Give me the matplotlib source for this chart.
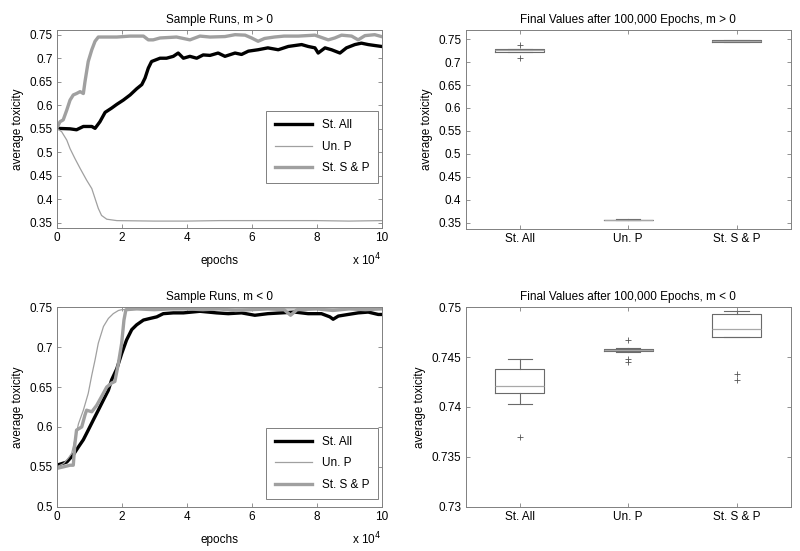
import matplotlib.pyplot as plt
from matplotlib.ticker import FormatStrFormatter

plt.rcParams['font.family'] = ['Liberation Sans', 'DejaVu Sans']
plt.rcParams['font.size'] = 8.5

# sample runs, m > 0  (epochs in units of 1e4)
pos_all_x = [0, 0.41, 0.61, 0.82, 1.08, 1.18, 1.33, 1.49, 1.69, 1.85, 2.05, 2.26, 2.46, 2.62, 2.72, 2.82,
             2.92, 3.18, 3.38, 3.59, 3.74, 3.90, 4.10, 4.31, 4.51, 4.72, 4.97, 5.18, 5.49, 5.69, 5.90, 6.20,
             6.50, 6.82, 7.13, 7.54, 7.74, 7.95, 8.05, 8.26, 8.46, 8.72, 8.92, 9.18, 9.38, 9.59, 9.79, 10.0]
pos_all_y = [0.551, 0.550, 0.548, 0.555, 0.555, 0.551, 0.565, 0.585, 0.594, 0.602, 0.611, 0.622, 0.635, 0.644,
             0.658, 0.679, 0.693, 0.700, 0.700, 0.704, 0.711, 0.700, 0.704, 0.700, 0.707, 0.706, 0.711, 0.704,
             0.711, 0.708, 0.715, 0.718, 0.722, 0.718, 0.725, 0.729, 0.725, 0.722, 0.711, 0.722, 0.718, 0.711,
             0.722, 0.729, 0.732, 0.729, 0.727, 0.725]
pos_unp_x = [0, 0.15, 0.31, 0.41, 0.56, 0.72, 0.92, 1.08, 1.18, 1.28, 1.38, 1.54, 1.85, 3.0, 4.0, 5.0, 6.0,
             7.0, 8.0, 9.0, 10.0]
pos_unp_y = [0.551, 0.544, 0.526, 0.508, 0.487, 0.466, 0.441, 0.423, 0.402, 0.381, 0.366, 0.358, 0.355, 0.354,
             0.354, 0.355, 0.355, 0.355, 0.355, 0.354, 0.355]
pos_sp_x = [0, 0.10, 0.20, 0.31, 0.41, 0.51, 0.61, 0.72, 0.82, 0.87, 0.97, 1.08, 1.18, 1.28, 1.49, 1.85, 2.26,
            2.67, 2.82, 2.97, 3.18, 3.69, 4.10, 4.41, 4.72, 5.18, 5.49, 5.80, 6.00, 6.20, 6.40, 6.70, 7.00,
            7.44, 7.95, 8.36, 8.56, 8.77, 9.08, 9.28, 9.49, 9.79, 10.0]
pos_sp_y = [0.551, 0.565, 0.569, 0.590, 0.611, 0.622, 0.625, 0.629, 0.625, 0.650, 0.693, 0.718, 0.736, 0.745,
            0.745, 0.745, 0.747, 0.747, 0.739, 0.739, 0.743, 0.745, 0.739, 0.747, 0.745, 0.746, 0.750, 0.749,
            0.743, 0.736, 0.742, 0.745, 0.747, 0.747, 0.749, 0.739, 0.743, 0.749, 0.747, 0.739, 0.748, 0.750,
            0.746]

# sample runs, m < 0
neg_all_x = [0, 0.31, 0.51, 0.67, 0.82, 0.97, 1.13, 1.28, 1.44, 1.59, 1.69, 1.85, 2.0, 2.15, 2.31, 2.46, 2.67,
             2.87, 3.08, 3.28, 3.59, 3.9, 4.41, 4.92, 5.28, 5.69, 6.1, 6.5, 6.92, 7.33, 7.74, 8.15, 8.41, 8.51,
             8.67, 8.97, 9.28, 9.59, 9.9, 10.0]
neg_all_y = [0.552, 0.556, 0.565, 0.575, 0.584, 0.596, 0.609, 0.621, 0.634, 0.646, 0.659, 0.673, 0.692, 0.709,
             0.722, 0.728, 0.734, 0.736, 0.738, 0.742, 0.743, 0.743, 0.745, 0.743, 0.742, 0.743, 0.740, 0.742,
             0.743, 0.744, 0.742, 0.742, 0.738, 0.735, 0.739, 0.741, 0.743, 0.744, 0.741, 0.741]
neg_unp_x = [0, 0.21, 0.36, 0.46, 0.56, 0.67, 0.82, 0.97, 1.08, 1.18, 1.28, 1.44, 1.59, 1.74, 1.9, 2.0, 3.0,
             4.0, 5.0, 6.0, 7.0, 8.0, 9.0, 10.0]
neg_unp_y = [0.550, 0.554, 0.561, 0.567, 0.584, 0.604, 0.621, 0.642, 0.665, 0.684, 0.705, 0.726, 0.736, 0.742,
             0.746, 0.747, 0.748, 0.748, 0.748, 0.748, 0.748, 0.748, 0.748, 0.748]
neg_sp_x = [0, 0.21, 0.41, 0.51, 0.56, 0.61, 0.77, 0.87, 0.92, 1.08, 1.23, 1.38, 1.54, 1.69, 1.79, 1.9, 2.0,
            2.07, 2.13, 2.46, 3.0, 3.5, 4.0, 4.5, 5.0, 5.5, 6.0, 6.5, 7.0, 7.2, 7.4, 8.0, 8.5, 9.0, 9.5, 10.0]
neg_sp_y = [0.548, 0.550, 0.552, 0.552, 0.579, 0.596, 0.600, 0.615, 0.621, 0.619, 0.627, 0.638, 0.650, 0.655,
            0.657, 0.680, 0.705, 0.734, 0.747, 0.748, 0.747, 0.748, 0.748, 0.747, 0.748, 0.746, 0.747, 0.748,
            0.747, 0.740, 0.747, 0.748, 0.746, 0.748, 0.747, 0.748]

# final values (box statistics)
groups = ['St. All', 'Un. P', 'St. S & P']
pos_med = [0.7253, 0.3560, 0.7465]
pos_q1 = [0.7224, 0.3553, 0.7443]
pos_q3 = [0.7282, 0.3567, 0.7478]
pos_lo = [0.7215, 0.3550, 0.7435]
pos_hi = [0.7290, 0.3570, 0.7485]
pos_out = [[0.7370, 0.7093], [], []]

neg_med = [0.74214, 0.74569, 0.74779]
neg_q1 = [0.74137, 0.74559, 0.74699]
neg_q3 = [0.74385, 0.74579, 0.74936]
neg_lo = [0.74027, 0.74555, 0.74699]
neg_hi = [0.74485, 0.74589, 0.74967]
neg_out = [[0.73702], [0.74672, 0.74482, 0.74452], [0.74328, 0.74274]]

GREY = '#a0a0a0'
FRAME = '#808080'


def style(ax):
    ax.tick_params(direction='in', top=True, right=True, length=3, width=0.6, color=FRAME, pad=3)
    for s in ax.spines.values():
        s.set_color(FRAME)
        s.set_linewidth(0.7)
    ax.yaxis.set_major_formatter(FormatStrFormatter('%g'))
    ax.set_ylabel('average toxicity')


def runs(ax, series, title, ylim, yticks, legend_y):
    labels = ['St. All', 'Un. P', 'St. S & P']
    cols = ['black', GREY, GREY]
    lws = [2.4, 0.9, 2.4]
    for (x, y), lab, c, lw in zip(series, labels, cols, lws):
        ax.plot(x, y, color=c, lw=lw, label=lab)
    ax.set_xlim(0, 10)
    ax.set_ylim(*ylim)
    ax.set_yticks(yticks)
    ax.set_xticks(range(0, 11, 2))
    ax.set_title(title, fontsize=8.5, pad=5)
    ax.set_xlabel('epochs', labelpad=8)
    ax.text(1.0, -0.12, r'x 10$^4$', transform=ax.transAxes, ha='right', va='top')
    style(ax)
    leg = ax.legend(loc='lower right', bbox_to_anchor=(0.988, legend_y), fancybox=False,
                    framealpha=1, edgecolor=FRAME, handlelength=3.2, labelspacing=0.8,
                    borderpad=0.7, borderaxespad=0)
    leg.get_frame().set_linewidth(0.7)


def boxes(ax, med, q1, q3, lo, hi, out, title, ylim, yticks):
    stats = []
    for i in range(len(groups)):
        stats.append(dict(med=med[i], q1=q1[i], q3=q3[i], whislo=lo[i], whishi=hi[i],
                          fliers=out[i], label=groups[i]))
    ax.bxp(stats, widths=0.45,
           boxprops=dict(color='#6a6a6a', lw=0.8),
           whiskerprops=dict(color='#6a6a6a', lw=0.8),
           capprops=dict(color='#6a6a6a', lw=0.8),
           medianprops=dict(color='#a8a8a8', lw=0.9),
           flierprops=dict(marker='+', markeredgecolor='#555555', markersize=4, markeredgewidth=0.6))
    ax.set_xlim(0.5, 3.5)
    ax.set_ylim(*ylim)
    ax.set_yticks(yticks)
    ax.set_title(title, fontsize=8.5, pad=5)
    style(ax)


fig = plt.figure(figsize=(8, 5.51), dpi=100)
ax1 = fig.add_axes([0.0709, 0.5868, 0.406, 0.3588])
ax2 = fig.add_axes([0.582, 0.5844, 0.4066, 0.3612])
ax3 = fig.add_axes([0.0709, 0.0804, 0.406, 0.3619])
ax4 = fig.add_axes([0.582, 0.0804, 0.4066, 0.3619])

runs(ax1, [(pos_all_x, pos_all_y), (pos_unp_x, pos_unp_y), (pos_sp_x, pos_sp_y)],
     'Sample Runs, m > 0', (0.34, 0.76), [0.35, 0.4, 0.45, 0.5, 0.55, 0.6, 0.65, 0.7, 0.75], 0.228)
runs(ax3, [(neg_all_x, neg_all_y), (neg_unp_x, neg_unp_y), (neg_sp_x, neg_sp_y)],
     'Sample Runs, m < 0', (0.5, 0.75), [0.5, 0.55, 0.6, 0.65, 0.7, 0.75], 0.039)
boxes(ax2, pos_med, pos_q1, pos_q3, pos_lo, pos_hi, pos_out,
      'Final Values after 100,000 Epochs, m > 0', (0.336, 0.77),
      [0.35, 0.4, 0.45, 0.5, 0.55, 0.6, 0.65, 0.7, 0.75])
boxes(ax4, neg_med, neg_q1, neg_q3, neg_lo, neg_hi, neg_out,
      'Final Values after 100,000 Epochs, m < 0', (0.73, 0.75),
      [0.73, 0.735, 0.74, 0.745, 0.75])

fig.savefig('out.png', dpi=100)
